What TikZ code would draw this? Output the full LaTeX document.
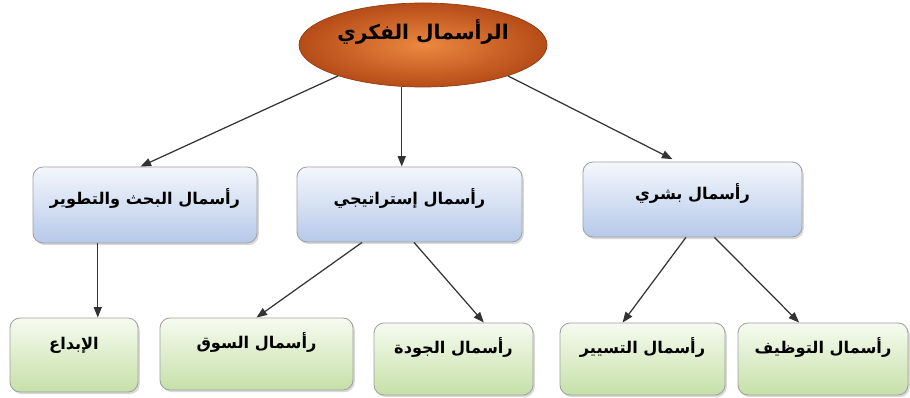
\documentclass[tikz,border=0pt]{standalone}
\usepackage{fontspec}
\usetikzlibrary{arrows.meta,shapes.geometric,shadows,calc}
\TeXXeTstate=1
\newfontfamily\arabicfont[Script=Arabic]{DejaVu Sans}
\definecolor{capinner}{RGB}{236,136,64}
\definecolor{capouter}{RGB}{182,76,24}
\definecolor{bluetop}{RGB}{244,247,252}
\definecolor{bluebot}{RGB}{182,201,233}
\definecolor{greentop}{RGB}{246,251,240}
\definecolor{greenbot}{RGB}{198,224,168}
\definecolor{boxline}{RGB}{160,160,160}
\newcommand{\artext}[1]{\beginR #1\endR}

\begin{document}
\begin{tikzpicture}[x=0.02cm,y=-0.02cm,
  font=\arabicfont\bfseries\fontsize{9.2}{11}\selectfont,
  box/.style={draw=boxline,line width=0.5pt,rounded corners=0.2cm,inner sep=2pt,
    drop shadow={opacity=0.3,shadow xshift=1pt,shadow yshift=-1.2pt}},
  midbox/.style={box,top color=bluetop,bottom color=bluebot,text height=8pt,text depth=8pt},
  leafbox/.style={box,top color=greentop,bottom color=greenbot,text height=8pt,text depth=14pt},
  link/.style={-{Triangle[length=6pt,width=4.6pt]},black!80,line width=0.7pt}]
\useasboundingbox (0,0) rectangle (910,398);
% root
\node[ellipse,draw=capouter!80!black,line width=0.4pt,inner color=capinner,outer color=capouter,
  minimum width=248*0.02cm,minimum height=84*0.02cm,inner sep=0pt,text height=9pt,text depth=15pt,
  font=\arabicfont\bfseries\fontsize{11.5}{13}\selectfont] (cap) at (423,45) {\artext{الرأسمال الفكري}};
% middle row
\node[midbox,minimum width=224*0.02cm,minimum height=76*0.02cm] (rd) at (145,205) {\artext{رأسمال البحث والتطوير}};
\node[midbox,minimum width=225*0.02cm,minimum height=75*0.02cm] (strat) at (409.5,204.5) {\artext{رأسمال إستراتيجي}};
\node[midbox,minimum width=219*0.02cm,minimum height=75*0.02cm] (hum) at (692.5,199.5) {\artext{رأسمال بشري}};
% bottom row
\node[leafbox,minimum width=128*0.02cm,minimum height=74*0.02cm] (ibda) at (74,355) {\artext{الإبداع}};
\node[leafbox,minimum width=193*0.02cm,minimum height=72*0.02cm] (souq) at (256.5,354) {\artext{رأسمال السوق}};
\node[leafbox,minimum width=159*0.02cm,minimum height=72*0.02cm] (jawda) at (453.5,359) {\artext{رأسمال الجودة}};
\node[leafbox,minimum width=165*0.02cm,minimum height=72*0.02cm] (tasyir) at (642.5,359) {\artext{رأسمال التسيير}};
\node[leafbox,minimum width=170*0.02cm,minimum height=72*0.02cm] (tawzif) at (823,359) {\artext{رأسمال التوظيف}};
% links
\draw[link] (cap.200) -- ($(rd.north west)!0.48!(rd.north east)$);
\draw[link] (cap.243) -- (cap.243 |- strat.north);
\draw[link,shorten >=3pt] (cap.340) -- ($(hum.north west)!0.43!(hum.north east)$);
\coordinate (rdfoot) at ($(rd.south west)!0.29!(rd.south east)$);
\draw[link] (rdfoot) -- (rdfoot |- ibda.north);
\draw[link] ($(strat.south west)!0.29!(strat.south east)$) -- (souq.north);
\draw[link] ($(strat.south west)!0.52!(strat.south east)$) -- ($(jawda.north west)!0.69!(jawda.north east)$);
\draw[link] ($(hum.south west)!0.47!(hum.south east)$) -- ($(tasyir.north west)!0.38!(tasyir.north east)$);
\draw[link] ($(hum.south west)!0.6!(hum.south east)$) -- ($(tawzif.north west)!0.36!(tawzif.north east)$);
\end{tikzpicture}
\end{document}
